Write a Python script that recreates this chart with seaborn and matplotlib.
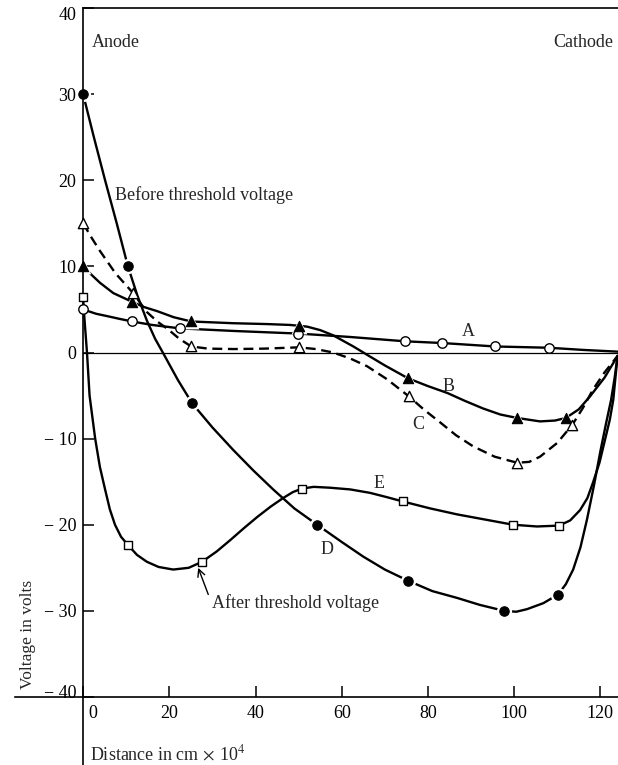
import matplotlib
matplotlib.use("Agg")
import matplotlib.pyplot as plt
import matplotlib.transforms as mtransforms
import seaborn as sns

# values (distance in cm x 10^4, voltage in volts)
# marker points
a_x = [0, 11.4, 22.5, 49.9, 74.7, 83.3, 95.6, 108.1]
a_y = [5.0, 3.6, 2.8, 2.2, 1.3, 1.1, 0.7, 0.55]
b_x = [0, 11.3, 25.1, 50.1, 75.4, 100.7, 112]
b_y = [10, 5.9, 3.6, 3.1, -3.0, -7.6, -7.6]
c_x = [0, 11.6, 25.1, 50.1, 75.6, 100.7, 113.5]
c_y = [15, 6.9, 0.7, 0.6, -5.1, -12.8, -8.4]
d_x = [0, 10.4, 25.3, 54.3, 75.4, 97.7, 110.2]
d_y = [30, 10, -5.9, -20, -26.5, -30, -28.1]
e_x = [0, 10.5, 27.6, 50.8, 74.2, 99.8, 110.4]
e_y = [6.4, -22.4, -24.3, -15.8, -17.3, -20, -20.1]

# points
a_trace_x = [0, 3, 5.8, 8.5, 11.4, 16, 22.5, 35, 49.9, 62, 74.7, 83.3, 95.6, 108.1, 116, 124]
a_trace_y = [5.0, 4.5, 4.2, 3.9, 3.6, 3.2, 2.8, 2.5, 2.2, 1.8, 1.3, 1.1, 0.7, 0.55, 0.3, 0.1]
b_trace_x = [0, 2, 3.9, 7, 11.3, 14, 17.2, 21, 25.1, 30, 34.8, 42.7, 48, 50.1, 52, 55, 58,
             62.7, 66, 70, 75.4, 80, 84.5, 88.5, 92.8, 96.8, 100.7, 106, 109.5, 112,
             115, 117.6, 121, 124]
b_trace_y = [10, 9, 8.1, 6.9, 5.9, 5.3, 4.8, 4.1, 3.6, 3.5, 3.4, 3.3, 3.2, 3.1, 3.0, 2.6, 2.0,
             0.7, -0.3, -1.5, -3.0, -3.9, -4.7, -5.6, -6.5, -7.2, -7.6, -8.0, -7.9, -7.6,
             -6.6, -5.1, -2.9, -0.4]
c_trace_x = [0, 2, 3.9, 7.5, 11.6, 14.8, 17.2, 19.7, 22.3, 25.1, 29, 35, 42, 50.1, 54, 58,
             62, 65.9, 70.5, 75.6, 79, 82.8, 86.5, 90.5, 95.5, 100.7, 103.5, 106, 110,
             113.5, 116, 118.3, 121, 124]
c_trace_y = [15, 13.3, 11.8, 9.2, 6.9, 4.7, 3.6, 2.7, 1.6, 0.7, 0.45, 0.4, 0.45, 0.6, 0.4, 0,
             -0.7, -1.6, -3.1, -5.1, -6.6, -8.1, -9.6, -10.9, -12.1, -12.8, -12.7, -12.1,
             -10.5, -8.4, -6.4, -4.3, -2.3, -0.4]
d_trace_x = [0, 2.5, 5.1, 7.8, 10.4, 12.6, 14.8, 16.7, 18.6, 22, 25.3, 30, 34.8, 39.5, 44.1,
             49, 54.3, 60, 65, 70, 75.4, 81, 86.8, 92, 97.7, 100.5, 103, 106.8, 110.2,
             112, 113.7, 115.4, 116.9, 118.5, 120, 121.3, 122.5, 123.3, 124]
d_trace_y = [30, 25, 20, 15, 10, 6.6, 3.7, 1.6, -0.1, -3.2, -5.9, -8.7, -11.3, -13.7, -15.9,
             -18.1, -20, -22, -23.7, -25.2, -26.5, -27.7, -28.5, -29.3, -30, -30.1, -29.8,
             -29.1, -28.1, -26.9, -25.2, -22.6, -19.4, -15.5, -11.5, -8.3, -5.5, -3, -0.4]
e_trace_x = [0, 0.3, 0.9, 1.5, 2.8, 3.9, 5.1, 6.2, 7.4, 8.8, 10.5, 12.5, 14.8, 17.5, 20.9,
             24.5, 27.6, 31, 34.1, 37.3, 40.4, 43.5, 46.4, 48.7, 50.8, 53.5, 57.3, 62,
             66.6, 70.5, 74.2, 80.5, 86.8, 93.3, 99.8, 105.3, 110.4, 113, 115.3, 117,
             118.3, 119.8, 121.1, 122.2, 123, 124]
e_trace_y = [6.4, 4, 0, -5, -10, -13.3, -15.9, -18.2, -20, -21.4, -22.4, -23.5, -24.3,
             -24.9, -25.2, -25.0, -24.3, -23.1, -21.8, -20.4, -19.1, -17.9, -16.9, -16.2,
             -15.8, -15.6, -15.7, -15.9, -16.3, -16.8, -17.3, -18.1, -18.8, -19.4, -20,
             -20.2, -20.1, -19.5, -18.3, -16.9, -15.1, -12.8, -10.1, -7.8, -5.5, -0.4]

x_ticks = [0, 20, 40, 60, 80, 100, 120]
y_ticks = [-40, -30, -20, -10, 0, 10, 20, 30, 40]
y_tick_labels = ["\u2212 40", "\u2212 30", "\u2212 20", "\u2212 10", "0", "10", "20", "30", "40"]

sns.set_theme(style="ticks")
plt.rcParams["font.family"] = ["Liberation Serif", "DejaVu Serif"]
plt.rcParams["mathtext.fontset"] = "stix"

fig = plt.figure(figsize=(6.18, 7.65), dpi=100)
ax = fig.add_axes([15 / 618, 68 / 765, 603 / 618, 689 / 765])
x_lo, x_hi = -15.8, 124.1
ax.set_xlim(x_lo, x_hi)
ax.set_ylim(-40, 40)

lw = 1.7
sns.lineplot(x=a_trace_x, y=a_trace_y, ax=ax, sort=False, estimator=None, color="black", lw=lw, zorder=2)
sns.lineplot(x=b_trace_x, y=b_trace_y, ax=ax, sort=False, estimator=None, color="black", lw=lw, zorder=2)
sns.lineplot(x=c_trace_x, y=c_trace_y, ax=ax, sort=False, estimator=None, color="black", lw=lw,
             linestyle=(0, (4.2, 2.4)), zorder=2)
sns.lineplot(x=d_trace_x, y=d_trace_y, ax=ax, sort=False, estimator=None, color="black", lw=lw, zorder=2)
sns.lineplot(x=e_trace_x, y=e_trace_y, ax=ax, sort=False, estimator=None, color="black", lw=lw, zorder=2)
for line in ax.get_lines():
    line.set_solid_joinstyle("round")
    line.set_dash_capstyle("butt")

# white halo round the filled markers, like the gaps in the print
sns.scatterplot(x=d_x, y=d_y, ax=ax, marker="o", s=120, color="white", linewidth=0, zorder=2.3)
sns.scatterplot(x=b_x, y=b_y, ax=ax, marker="^", s=130, color="white", linewidth=0, zorder=2.3)

sns.scatterplot(x=a_x, y=a_y, ax=ax, marker="o", s=46, color="white", edgecolor="black", linewidth=1, zorder=4)
sns.scatterplot(x=b_x, y=b_y, ax=ax, marker="^", s=55, color="black", edgecolor="black", linewidth=0.8, zorder=4)
sns.scatterplot(x=c_x, y=c_y, ax=ax, marker="^", s=55, color="white", edgecolor="black", linewidth=1, zorder=4)
sns.scatterplot(x=d_x, y=d_y, ax=ax, marker="o", s=46, color="black", edgecolor="black", linewidth=0.8, zorder=4)
sns.scatterplot(x=e_x, y=e_y, ax=ax, marker="s", s=38, color="white", edgecolor="black", linewidth=1, zorder=4)

# axes frame: y axis at x = 0, top line from it, x axis across
ax.spines["left"].set_position(("data", 0))
ax.spines["right"].set_visible(False)
ax.spines["top"].set_bounds(0, x_hi)
for side in ["left", "top", "bottom"]:
    ax.spines[side].set_color("black")
    ax.spines[side].set_linewidth(1.2)
ax.axvline(0, ymin=-0.1, ymax=0, color="black", lw=1.2, clip_on=False)
ax.axhline(0, xmin=(0 - x_lo) / (x_hi - x_lo), xmax=1, color="black", lw=0.9, zorder=1)

ax.set_xticks(x_ticks)
ax.set_yticks(y_ticks, labels=y_tick_labels)
ax.tick_params(axis="both", direction="in", length=8, width=1.1, color="black",
               labelsize=13, labelcolor="black")
ax.tick_params(axis="x", pad=6)
ax.tick_params(axis="y", pad=5)
for lbl in ax.get_xticklabels():
    if lbl.get_text() == "0":
        lbl.set_transform(lbl.get_transform() + mtransforms.ScaledTranslation(0.10, 0, fig.dpi_scale_trans))
for lbl in ax.get_yticklabels():
    if lbl.get_text() == "40":
        lbl.set_transform(lbl.get_transform() + mtransforms.ScaledTranslation(0, -0.05, fig.dpi_scale_trans))
    if lbl.get_text() == "\u2212 40":
        lbl.set_transform(lbl.get_transform() + mtransforms.ScaledTranslation(0, 0.06, fig.dpi_scale_trans))

# curve letters and notes
ax.text(89.3, 2.4, "A", fontsize=13, ha="center", va="center")
ax.text(84.7, -3.9, "B", fontsize=13, ha="center", va="center")
ax.text(77.8, -8.4, "C", fontsize=13, ha="center", va="center")
ax.text(56.6, -22.9, "D", fontsize=13, ha="center", va="center")
ax.text(68.7, -15.2, "E", fontsize=13, ha="center", va="center")
ax.text(7.4, 18.3, "Before threshold voltage", fontsize=13, ha="left", va="center")
ax.annotate("After threshold voltage", xy=(26.7, -25.0), xytext=(29.8, -29.1),
            fontsize=13, ha="left", va="center",
            arrowprops=dict(arrowstyle="->", color="black", lw=1, shrinkA=0, shrinkB=0,
                            relpos=(0, 0.5)))
ax.text(2.1, 36.0, "Anode", fontsize=13, ha="left", va="center")
ax.text(123, 36.0, "Cathode", fontsize=13, ha="right", va="center")
ax.text(-12.8, -32.7, "Voltage in volts", fontsize=12.5, rotation=90, ha="center", va="center")
ax.text(1.6, -46.6, "Distance in cm$\\,\\times\\,$10$^4$", fontsize=13, ha="left", va="center")

fig.savefig("out.png", dpi=100)
